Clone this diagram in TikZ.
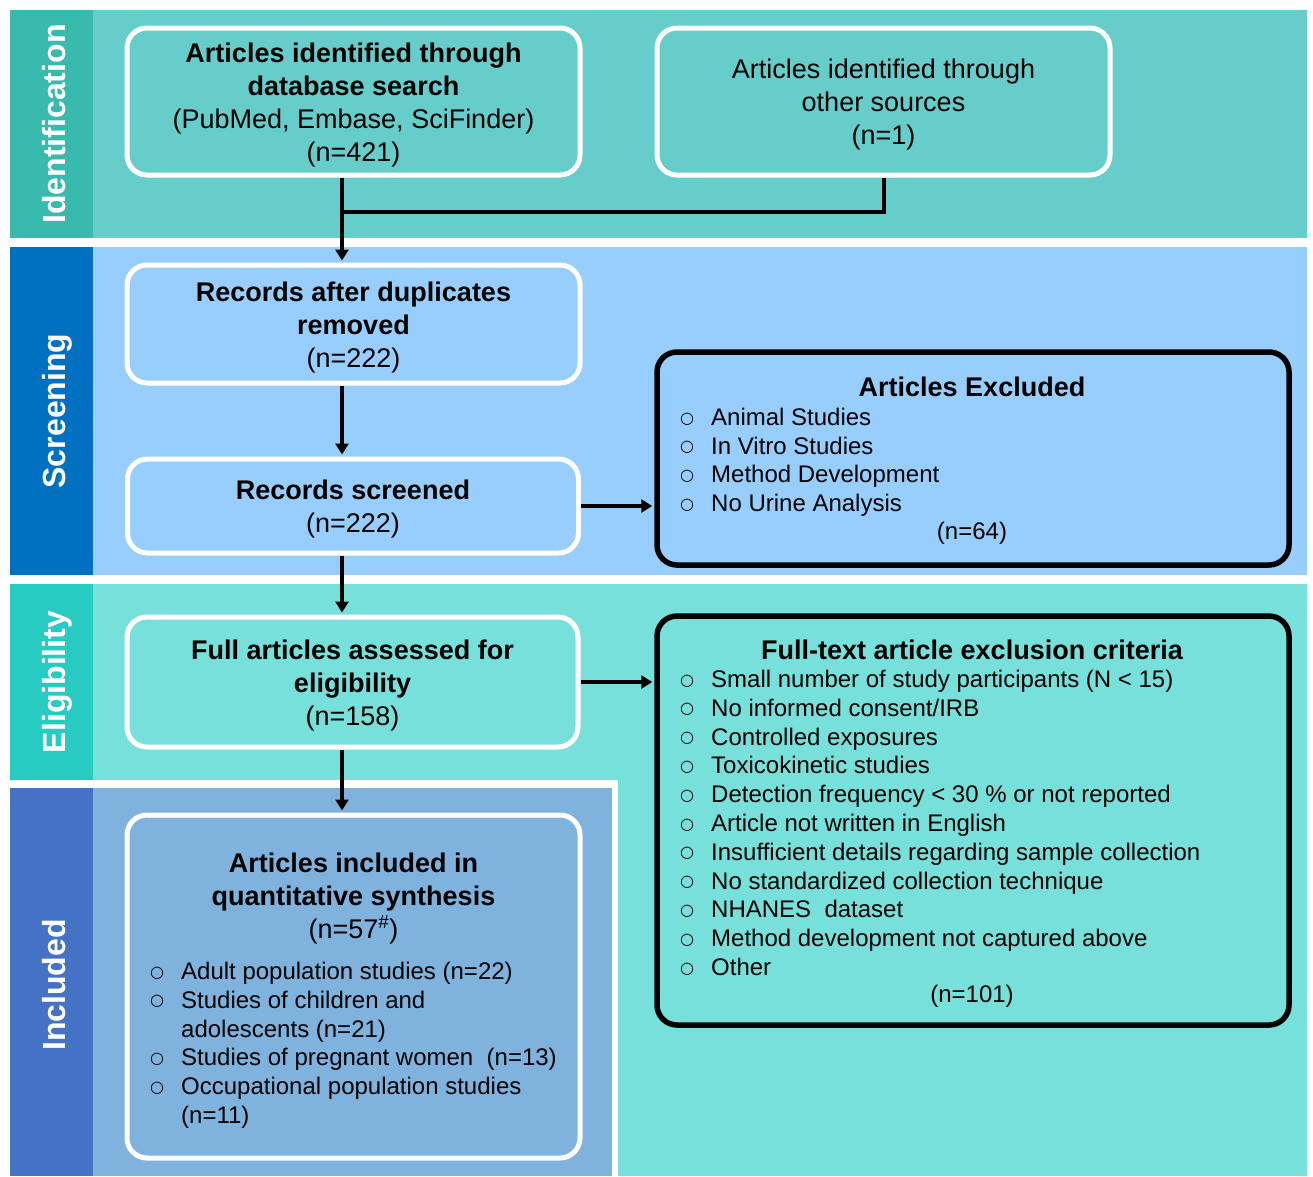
\documentclass[tikz,border=0pt]{standalone}
\usepackage{fontspec}
\setmainfont{Liberation Sans}
\newfontfamily\bulletfont{DejaVu Sans}
\usetikzlibrary{arrows.meta}
\definecolor{idband}{HTML}{66CDCB}
\definecolor{idstrip}{HTML}{38BBAE}
\definecolor{scband}{HTML}{97CEFE}
\definecolor{scstrip}{HTML}{0070C0}
\definecolor{elband}{HTML}{78E0DA}
\definecolor{elstrip}{HTML}{28CBC1}
\definecolor{inband}{HTML}{7FB3DE}
\definecolor{instrip}{HTML}{4472C4}
\newcommand{\bul}{\makebox[32pt][l]{\hspace{1pt}\raisebox{2.5pt}{\fontsize{16}{16}\bulletfont ○}}}
\newcommand{\nobul}{\makebox[32pt][l]{}}
\newcommand{\tstrut}{\rule{0pt}{26pt}}
\begin{document}
\begin{tikzpicture}[x=1pt,y=-1pt,
  flowbox/.style={draw=white, line width=5pt, rounded corners=20pt, inner sep=0pt, align=center, font=\fontsize{27}{33}\selectfont},
  exbox/.style={draw=black, line width=5.5pt, rounded corners=20pt, inner sep=0pt},
  stage/.style={rotate=90, anchor=base, text=white, inner sep=0pt, font=\fontsize{32}{38}\selectfont\bfseries},
  item/.style={anchor=base west, inner sep=0pt, font=\fontsize{24}{29}\selectfont},
  head/.style={anchor=base, inner sep=0pt, font=\fontsize{27}{33}\selectfont\bfseries},
  nline/.style={anchor=base, inner sep=0pt, font=\fontsize{24}{29}\selectfont},
  conn/.style={line width=4pt},
  arr/.style={line width=4pt, -{Triangle[length=11pt,width=13pt]}, shorten >=2pt},
]
\useasboundingbox (0,0) rectangle (1313,1176);
\fill[white] (0,0) rectangle (1313,1176);
% bands
\fill[idband] (10,10) rectangle (1307,238);
\fill[idstrip] (10,10) rectangle (93,238);
\fill[scband] (10,247) rectangle (1307,575);
\fill[scstrip] (10,247) rectangle (93,575);
\fill[elband] (10,584) rectangle (1307,1176);
\fill[elstrip] (10,584) rectangle (93,780);
\fill[white] (10,780) rectangle (618,1176);
\fill[inband] (10,788) rectangle (612,1176);
\fill[instrip] (10,788) rectangle (93,1176);
% stage labels
\node[stage] (lid) at (65,124) {Identification};
\node[stage] (lsc) at (65,411) {Screening};
\node[stage] (lel) at (65,682) {Eligibility};
\node[stage] (lin) at (65,985) {Included};
% flow boxes
\node[flowbox, minimum width=453pt, minimum height=147pt] (b1) at (353.5,101.5)
  {\tstrut\textbf{Articles identified through}\\\textbf{database search}\\(PubMed, Embase, SciFinder)\\(n=421)};
\node[flowbox, minimum width=453pt, minimum height=147pt] (b2) at (883.5,101.5)
  {\tstrut Articles identified through\\other sources\\(n=1)};
\node[flowbox, minimum width=453pt, minimum height=118pt] (b3) at (353.5,324)
  {\tstrut\textbf{Records after duplicates}\\\textbf{removed}\\(n=222)};
\node[flowbox, minimum width=451pt, minimum height=94pt] (b4) at (353,506)
  {\tstrut\textbf{Records screened}\\(n=222)};
\node[flowbox, minimum width=451pt, minimum height=130pt] (b6) at (352.5,682)
  {\tstrut\textbf{Full articles assessed for}\\\textbf{eligibility}\\(n=158)};
\node[flowbox, minimum width=453pt, minimum height=343pt] (b8) at (353.5,986.5) {};
% exclusion boxes
\node[exbox, minimum width=632pt, minimum height=213pt] (b5) at (973,458.5) {};
\node[exbox, minimum width=632pt, minimum height=409pt] (b7) at (973,820.5) {};
% box 5 content
\node[head] (b5t) at (972,396.7) {Articles Excluded};
\foreach \t [count=\i] in {Animal Studies, In Vitro Studies, Method Development, No Urine Analysis}
  \node[item] (b5i\i) at (679,{425.5+28.7*(\i-1)}) {\bul \t};
\node[nline] (b5n) at (972,539) {(n=64)};
% box 7 content
\node[head] (b7t) at (972,659.7) {Full-text article exclusion criteria};
\foreach \t [count=\i] in {Small number of study participants (N < 15), No informed consent/IRB, Controlled exposures, Toxicokinetic studies, Detection frequency < 30 \% or not reported, Article not written in English, Insufficient details regarding sample collection, No standardized collection technique, NHANES\ \ dataset, Method development not captured above, Other}
  \node[item] (b7i\i) at (679,{687.5+28.8*(\i-1)}) {\bul \t};
\node[nline] (b7n) at (972,1002) {(n=101)};
% box 8 content
\node[align=center, inner sep=0pt, font=\fontsize{27}{33}\selectfont] (b8t) at (353.5,898)
  {\textbf{Articles included in}\\\textbf{quantitative synthesis}\\(n=57\textsuperscript{\#})};
\node[item] (b8i1) at (149,979.5) {\bul Adult population studies (n=22)};
\node[item] (b8i2) at (149,1008.3) {\bul Studies of children and};
\node[item] (b8i3) at (149,1037.1) {\nobul adolescents (n=21)};
\node[item] (b8i4) at (149,1065.9) {\bul Studies of pregnant women\ \ (n=13)};
\node[item] (b8i5) at (149,1094.7) {\bul Occupational population studies};
\node[item] (b8i6) at (149,1123.5) {\nobul (n=11)};
% connectors
\coordinate (spine) at (342,0);
\coordinate (join) at (342,212);
\draw[conn] (b2.south) |- (join);
\draw[arr] (b1.south -| spine) -- (b3.north -| spine);
\draw[arr] (b3.south -| spine) -- (b4.north -| spine);
\draw[arr] (b4.south -| spine) -- (b6.north -| spine);
\draw[arr] (b6.south -| spine) -- (b8.north -| spine);
\draw[arr] (b4.east) -- (b4.east -| b5.west);
\draw[arr] (b6.east) -- (b6.east -| b7.west);
\end{tikzpicture}
\end{document}
